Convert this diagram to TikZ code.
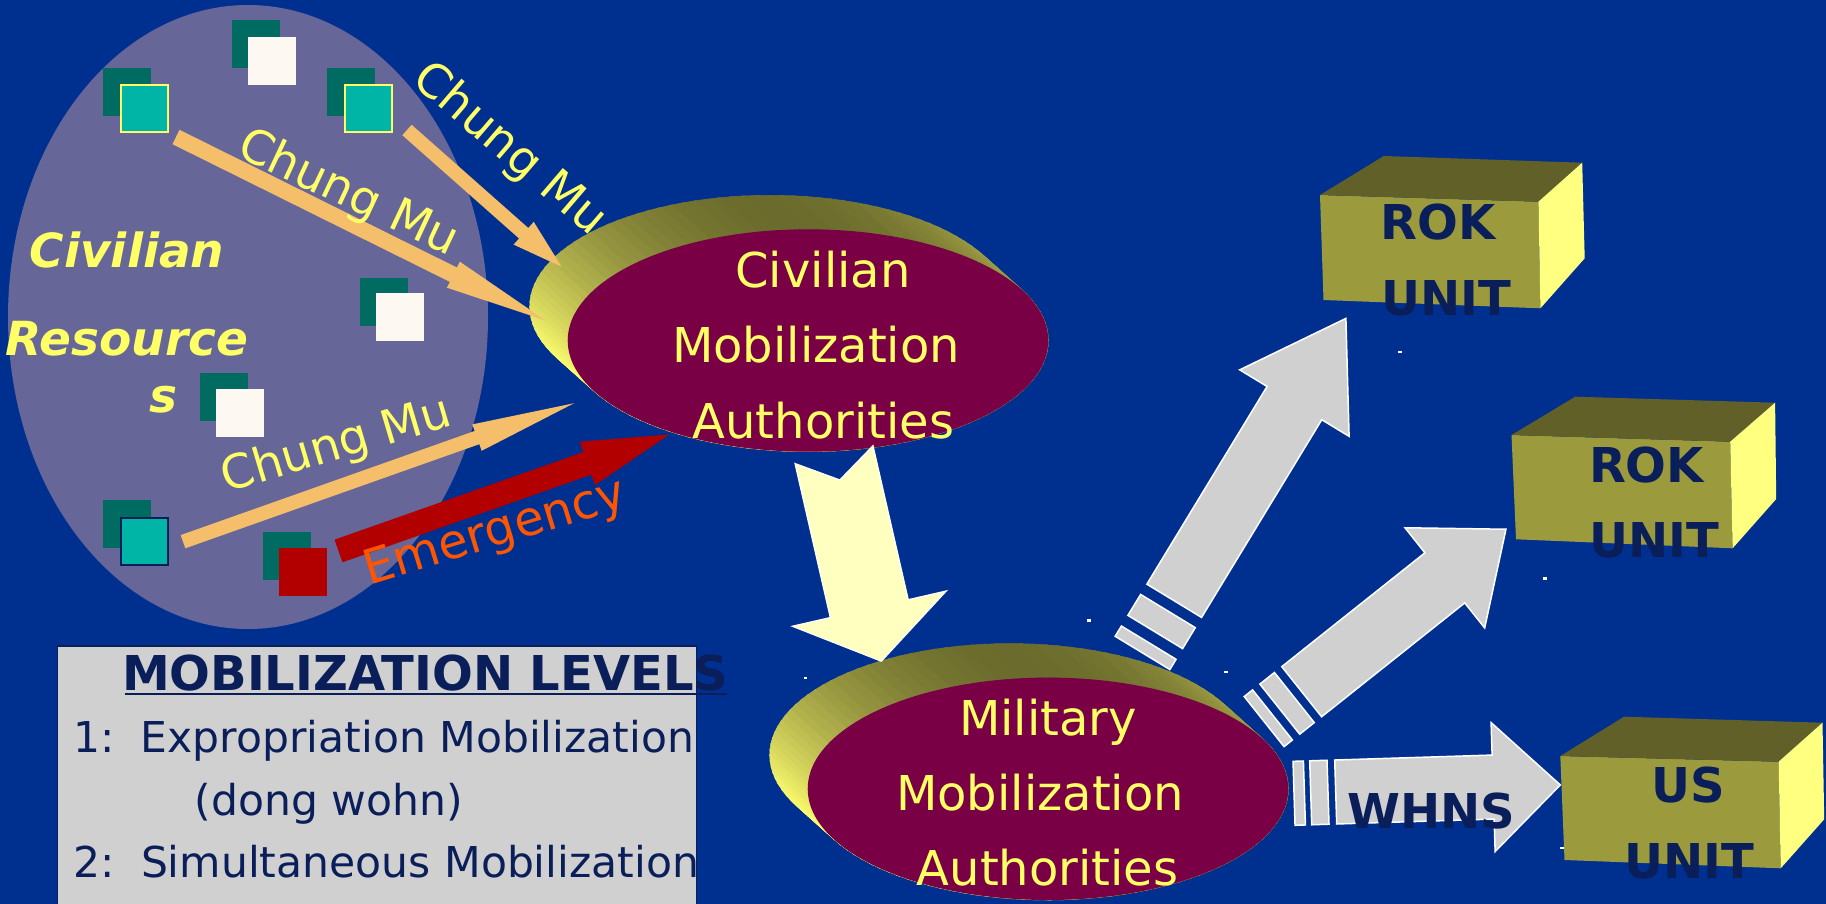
\documentclass[tikz,border=0pt]{standalone}
\usepackage{graphicx}
\usepackage{fontspec}
\setmainfont{DejaVu Sans}
\usetikzlibrary{calc,shapes.geometric}
\definecolor{bg}{RGB}{0,48,143}
\definecolor{lav}{RGB}{102,102,153}
\definecolor{dteal}{RGB}{0,107,96}
\definecolor{teal2}{RGB}{0,181,165}
\definecolor{wsq}{RGB}{253,249,242}
\definecolor{rsq}{RGB}{178,0,0}
\definecolor{ytext}{RGB}{255,255,102}
\definecolor{orar}{RGB}{245,190,106}
\definecolor{emtext}{RGB}{255,85,0}
\definecolor{maroon}{RGB}{122,0,69}
\definecolor{rimdark}{RGB}{92,92,38}
\definecolor{rimlight}{RGB}{255,255,112}
\definecolor{grayar}{RGB}{208,208,208}
\definecolor{yarrow}{RGB}{255,255,192}
\definecolor{navy}{RGB}{10,30,90}
\definecolor{boxfront}{RGB}{155,155,62}
\definecolor{boxtop}{RGB}{96,96,40}
\definecolor{boxside}{RGB}{255,255,128}
\definecolor{panel}{RGB}{208,208,208}
\newcommand\fsz[1]{\fontsize{#1}{#1}\selectfont}
% side of an extruded ellipse, centre #1,#2 (pixel units, y downwards)
\newcommand\discrim[2]{%
  \foreach \t in {0,3,...,357}{%
    \pgfmathsetmacro\tb{\t+3.6}%
    \pgfmathtruncatemacro\pp{min(100,100*((1+cos(\t-215))/2)^2+45*((1+cos(\t-10))/2)^4)}%
    \path[fill=rimlight!\pp!rimdark,draw=rimlight!\pp!rimdark,line width=0.6pt]
      ({#1+240.3*cos(\t)},{#2-111.2*sin(\t)}) --
      ({#1+240.3*cos(\tb)},{#2-111.2*sin(\tb)}) --
      ({#1-38+240.3*cos(\tb)},{#2-34-111.2*sin(\tb)}) --
      ({#1-38+240.3*cos(\t)},{#2-34-111.2*sin(\t)}) -- cycle;
  }}
% simple block arrow: #1 tail, #2 angle, #3 length, #4 half shaft, #5 half head, #6 head length, #7 style
\newcommand\blockarrow[7]{%
  \begin{scope}[shift={(#1)},rotate=#2]
    \path[#7] (0,-#4) -- ({#3-#6},-#4) -- ({#3-#6},-#5) -- (#3,0) --
      ({#3-#6},#5) -- ({#3-#6},#4) -- (0,#4) -- cycle;
  \end{scope}}
% striped arrow: #1 tail, #2 angle, #3 head base, #4 tip, #5 half head, #6-#7 stripe one, #8-#9 stripe two
\newcommand\stripearrow[9]{%
  \begin{scope}[shift={(#1)},rotate=#2]
    \path[grayarrow] (0,-32) -- (#3,-32) -- (#3,-#5) -- (#4,0) -- (#3,#5) -- (#3,32) -- (0,32) -- cycle;
    \path[grayarrow] (#6,-32) rectangle (#7,32);
    \path[grayarrow] (#8,-32) rectangle (#9,32);
  \end{scope}}
\begin{document}
\begin{tikzpicture}[x=1pt,y=-1pt,
  lbl/.style={inner sep=0pt,outer sep=0pt,anchor=base},
  sqb/.style={rectangle,inner sep=0pt,minimum size=48pt,anchor=north west},
  ellnode/.style={ellipse,inner sep=0pt,fill=maroon,minimum width=480.6pt,minimum height=222.4pt},
  ytxt/.style={lbl,font=\fsz{48},text=ytext},
  cmtxt/.style={lbl,font=\fsz{47},text=ytext},
  restxt/.style={lbl,font=\fsz{47}\bfseries\itshape,text=ytext},
  unittxt/.style={lbl,font=\fsz{48}\bfseries,text=navy},
  paneltxt/.style={lbl,anchor=base west,font=\fsz{42.5},text=navy},
  grayarrow/.style={fill=grayar,draw=white,line width=1.5pt},
  yelarrow/.style={fill=yarrow,draw=white,line width=1.2pt}]
\useasboundingbox (0,0) rectangle (1826,904);
\fill[bg] (0,0) rectangle (1826,904);

% civilian resources
\node[ellipse,fill=lav,inner sep=0pt,minimum width=480pt,minimum height=624pt] (res) at (248,317) {};
\node[sqb,fill=dteal] (q1b) at (103,68) {};
\node[sqb,fill=teal2,draw=ytext,line width=2pt,minimum size=47pt] (q1) at (119.5,84.5) {};
\node[sqb,fill=dteal] (q2b) at (232,20) {};
\node[sqb,fill=wsq] (q2) at (248,37) {};
\node[sqb,fill=dteal] (q3b) at (327,68) {};
\node[sqb,fill=teal2,draw=ytext,line width=2pt,minimum size=47pt] (q3) at (343.5,84.5) {};
\node[sqb,fill=dteal] (q4b) at (360,278) {};
\node[sqb,fill=wsq] (q4) at (376,293) {};
\node[sqb,fill=dteal] (q5b) at (200,373) {};
\node[sqb,fill=wsq] (q5) at (216,389) {};
\node[sqb,fill=dteal] (q6b) at (103,500) {};
\node[sqb,fill=teal2,draw=navy,line width=2pt,minimum size=47pt] (q6) at (119.5,516.5) {};
\node[sqb,fill=dteal] (q7b) at (263,532) {};
\node[sqb,fill=rsq] (q7) at (279,548) {};
\node[restxt] (r1) at (127,267) {Civilian};
\node[restxt] (r2) at (127,355) {Resource};
\node[restxt] (r3) at (163,412) {s};

% civilian mobilization authorities
\discrim{808}{340.5}
\node[ellnode] (civ) at (808,340.5) {};
\node[ytxt] (civ1) at (823,287.3) {Civilian};
\node[ytxt] (civ2) at (816,362.7) {Mobilization};
\node[ytxt] (civ3) at (823.5,438.3) {Authorities};

% military mobilization authorities
\discrim{1048}{788.8}
\node[ellnode] (mil) at (1048,788.8) {};
\node[ytxt] (mil1) at (1048,735) {Military};
\node[ytxt] (mil2) at (1040,810) {Mobilization};
\node[ytxt] (mil3) at (1047.6,885.7) {Authorities};

% Chung Mu and emergency arrows
\coordinate (aA) at (176,137);
\coordinate (aB) at (407,130);
\coordinate (aC) at (183,541.7);
\coordinate (aE) at (338.5,551);
\blockarrow{aA}{-26.4}{412.7}{8}{14.5}{103}{fill=orar}
\blockarrow{aB}{-41.5}{206.4}{7}{15.2}{50.6}{fill=orar}
\blockarrow{aC}{19.5}{414.9}{7}{14}{103}{fill=orar}
\blockarrow{aE}{19.4}{350.8}{12}{23}{87}{fill=rsq}
\node[cmtxt,rotate=-40.6] (cm1) at (500.8,159.7) {Chung Mu};
\node[cmtxt,rotate=-25.1] (cm2) at (342.5,206) {Chung Mu};
\node[cmtxt,rotate=16.6] (cm3) at (340.4,458.8) {Chung Mu};
\node[lbl,font=\fsz{48},text=emtext,rotate=17] (emg) at (499.4,545.7) {Emergency};

% yellow arrow civilian -> military
\coordinate (ya) at (834,454.6);
\begin{scope}[shift={(ya)},rotate=-77.1]
  \path[yelarrow] (0,-40) -- (158,-40) -- (158,-79) -- (212,0) -- (158,79) -- (158,40) -- (0,40) -- (26,0) -- cycle;
\end{scope}

% striped arrows
\coordinate (g1) at (1174.2,600.8);
\coordinate (g2) at (1301.7,691.7);
\coordinate (g3) at (1335.7,792);
\stripearrow{g1}{58.7}{231.4}{330.5}{64}{-36.5}{-12}{-61}{-49}
\stripearrow{g2}{38.5}{182.9}{261}{64}{-28}{-9.4}{-48}{-37.3}
\stripearrow{g3}{1.8}{157.5}{224.7}{64.5}{-25}{-7.7}{-41.7}{-31.3}

% units
\fill[boxfront] (1320,195) -- (1538.4,201.7) -- (1540.4,308.3) -- (1323.5,300) -- cycle;
\fill[boxtop] (1320,195) -- (1383.8,156) -- (1582.2,162.7) -- (1538.4,201.7) -- cycle;
\fill[boxside] (1538.4,201.7) -- (1582.2,162.7) -- (1584.7,258.3) -- (1540.4,308.3) -- cycle;
\fill[boxfront] (1511.5,435) -- (1730.2,441.7) -- (1732.6,548.3) -- (1516,539.3) -- cycle;
\fill[boxtop] (1511.5,435) -- (1575.3,396.7) -- (1775.1,402.7) -- (1730.2,441.7) -- cycle;
\fill[boxside] (1730.2,441.7) -- (1775.1,402.7) -- (1776.2,499) -- (1732.6,548.3) -- cycle;
\fill[boxfront] (1560.3,756) -- (1778.6,761.7) -- (1780.7,868.3) -- (1564.5,860) -- cycle;
\fill[boxtop] (1560.3,756) -- (1624,716.7) -- (1822.5,722.7) -- (1778.6,761.7) -- cycle;
\fill[boxside] (1778.6,761.7) -- (1822.5,722.7) -- (1824.2,819.3) -- (1780.7,868.3) -- cycle;
\node[unittxt,anchor=base west] (u1a) at (1380.5,240) {ROK};
\node[unittxt,anchor=base west] (u1b) at (1381.5,315) {UNIT};
\node[unittxt,anchor=base west] (u2a) at (1589,482.7) {ROK};
\node[unittxt,anchor=base west] (u2b) at (1589.5,557.7) {UNIT};
\node[unittxt] (u3a) at (1688,802.7) {US};
\node[unittxt] (u3b) at (1689,878.3) {UNIT};
\node[unittxt] (whns) at (1431,828.3) {WHNS};

% stray dots
\fill[white] (1398,350.5) rectangle ++(4,2.5);
\fill[white] (1543,577) rectangle ++(4,2.5);
\fill[white] (1087,619) rectangle ++(4,2.5);
\fill[white] (1224,670.5) rectangle ++(4,2.5);
\fill[white] (804,676.5) rectangle ++(3,2.5);
\fill[white] (1560,847) rectangle ++(4,2);

% mobilization levels panel
\node[rectangle,fill=panel,draw=navy,line width=1.5pt,anchor=north west,inner sep=0pt,
      minimum width=639pt,minimum height=290pt] (levels) at (56.5,645) {};
\node[unittxt,anchor=base west] (title) at (122,690) {MOBILIZATION LEVELS};
\draw[navy,line width=2.5pt] ($(title.base west)+(2.8,3.8)$) -- ($(title.base east)+(-1,3.8)$);
\node[paneltxt] (n1) at (73.5,752.7) {1:};
\node[paneltxt] (l1) at (140.7,752.7) {Expropriation Mobilization};
\node[paneltxt] (l1b) at (194.7,815) {(dong wohn)};
\node[paneltxt] (n2) at (73.5,877.3) {2:};
\node[paneltxt] (l2) at (141,877.3) {Simultaneous Mobilization};
\end{tikzpicture}
\end{document}
